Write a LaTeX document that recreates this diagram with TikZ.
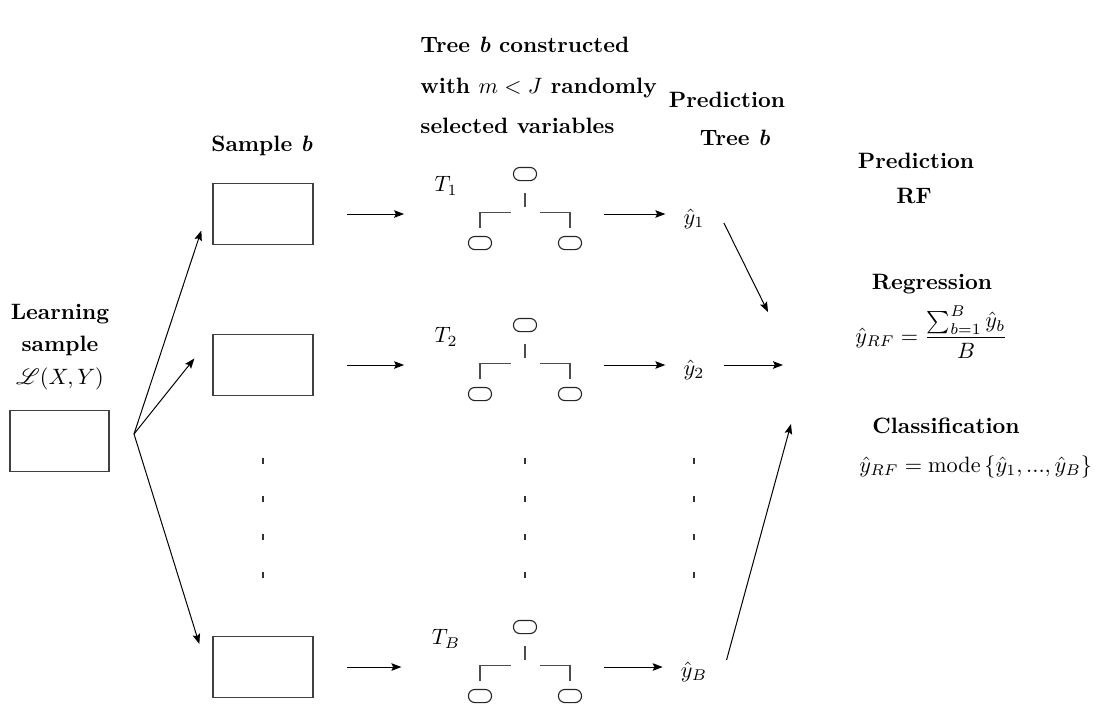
\documentclass[tikz,border=0pt]{standalone}
\usepackage{amsmath}
\usepackage{mathrsfs}
\usetikzlibrary{arrows.meta, positioning}

\begin{document}
\begin{tikzpicture}[
    x=0.45pt, y=-0.45pt,
    box/.style={rectangle, draw=black!75, line width=0.6pt,
    minimum width=45pt, minimum height=27.5pt, inner sep=0pt},
    leaf/.style={rectangle, draw=black!85, line width=0.5pt,
    rounded corners=2.9pt, minimum width=10.4pt, minimum height=5.9pt,
    inner sep=0pt},
    branch/.style={draw=black!70, line width=0.5pt},
    lbl/.style={font=\bfseries, inner sep=0pt, text height=7pt,
    text depth=2pt},
    arrow/.style={-{Stealth[length=4.5pt, width=3.4pt, inset=0.8pt]},
    line width=0.45pt},
    vdots/.style={draw=black!80, line width=0.6pt,
    dash pattern=on 2.7pt off 14.4pt} ]

    \useasboundingbox (0,0) rectangle (1105,709);

    % Learning sample
    \node[lbl] (learn) at (60,314) {Learning};
    \node[lbl] (lsample) at (60,346) {sample};
    \node[inner sep=0pt, text height=7.5pt, text depth=2.5pt] (lxy)
	    at (60,379) {$\mathscr{L}(X,Y)$};
    \node[box, minimum width=44.5pt] (learnbox) at (59.5,441) {};
    \coordinate (fan) at (134,434);

    % Column headings
    \node[lbl] (sampb) at (262,146) {Sample \textit{b}};
    \node[lbl, anchor=west] (cons1) at (420,47) {Tree \textit{b} constructed};
    \node[lbl, anchor=west] (cons2) at (420,88) {with $m<J$ randomly};
    \node[lbl, anchor=west] (cons3) at (420,128) {selected variables};
    \node[lbl] (predtree) at (727,102) {Prediction};
    \node[lbl] (treeb) at (735,140) {Tree \textit{b}};
    \node[lbl] (predrf) at (916,163) {Prediction};
    \node[lbl] (rf) at (914,198) {RF};

    % One row per tree
    \foreach \r/\y in {1/214, 2/365, B/667}{
      \node[box] (box\r) at (263,\y) {};
      \node[inner sep=0pt] (tlab\r) at (446,\y-28) {$T_{\r}$};
      \node[leaf] (root\r) at (525,\y-40) {};
      \node[leaf] (lleaf\r) at (480,\y+29) {};
      \node[leaf] (rleaf\r) at (570,\y+29) {};
      \node[inner sep=0pt] (yhat\r) at (694,\y+5) {$\hat{y}_{\r}$};

      \draw[branch] (root\r.south) ++(0,12) -- ++(0,14);
      \draw[branch] (lleaf\r.north) ++(0,-8) -- ++(0,-15) -- ++(31,0);
      \draw[branch] (rleaf\r.north) ++(0,-8) -- ++(0,-15) -- ++(-30,0);

      \draw[arrow, shorten <=15pt, shorten >=13.5pt]
	      (box\r.east) -- (box\r.east -| tlab\r.west);
      \draw[arrow, shorten <=10pt, shorten >=8pt]
	      (rleaf\r.east |- box\r.east) -- (yhat\r.west |- box\r.east);
    }

    % Bootstrap samples
    \draw[arrow] (fan) -- ([shift={(-11,16.5)}]box1.west);
    \draw[arrow] (fan) -- ([shift={(-18,-6.5)}]box2.west);
    \draw[arrow] (fan) -- ([shift={(-13,-23)}]boxB.west);

    % Vertical dots between rows
    \foreach \c in {box2, root2, yhat2}
      \draw[vdots] (\c |- fan) ++(0,24) -- ++(0,120);

    % Aggregation
    \coordinate (rf1) at (768,312);
    \coordinate (rf2) at (783,365);
    \coordinate (rfB) at (791,424);
    \draw[arrow] ([shift={(19,4)}]yhat1.east) -- (rf1);
    \draw[arrow] ([shift={(19,-5)}]yhat2.east) -- (rf2);
    \draw[arrow] ([shift={(19,-12)}]yhatB.east) -- (rfB);

    % Regression and classification rules
    \node[lbl] (reg) at (932,284) {Regression};
    \node[anchor=base west, inner sep=0pt] (regeq) at (855,343)
	    {$\hat{y}_{RF} = \dfrac{\sum_{b=1}^{B} \hat{y}_b}{B}$};
    \node[lbl] (cls) at (946,428) {Classification};
    \node[anchor=base west, inner sep=0pt] (clseq) at (859,472.5)
	    {$\hat{y}_{RF} = \mathrm{mode}\,\{\hat{y}_1,...,\hat{y}_B\}$};

  \end{tikzpicture}
\end{document}
